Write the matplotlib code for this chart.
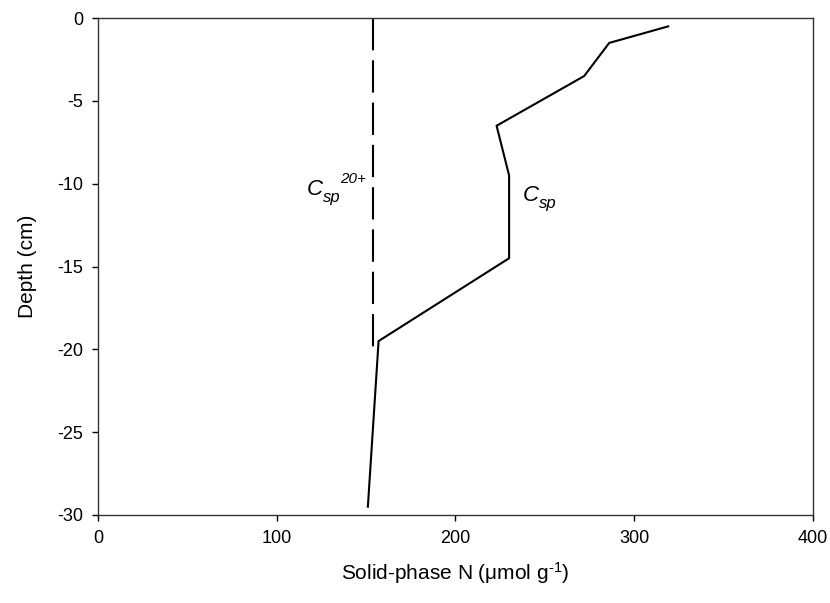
import matplotlib
matplotlib.use("Agg")
import matplotlib.pyplot as plt

plt.rcParams['font.family'] = ['Liberation Sans', 'DejaVu Sans']
plt.rcParams['mathtext.fontset'] = 'custom'
plt.rcParams['mathtext.rm'] = 'Liberation Sans'
plt.rcParams['mathtext.it'] = 'Liberation Sans:italic'
plt.rcParams['axes.unicode_minus'] = False

# Perfil de N en fase sólida frente a la profundidad
csp_n = [319, 286, 272, 223, 230, 230, 157, 151]
csp_depth = [-0.5, -1.5, -3.5, -6.5, -9.5, -14.5, -19.5, -29.5]

# Valor constante por encima de 20 cm
csp20_n = [154, 154]
csp20_depth = [0, -20]

x_ticks = [0, 100, 200, 300, 400]
y_ticks = [0, -5, -10, -15, -20, -25, -30]

fig = plt.figure(figsize=(8.30, 6.03), dpi=100)
ax = fig.add_axes([0.118, 0.146, 0.8615, 0.824])

ax.plot(csp_n, csp_depth, color="black", lw=1.5)
ax.plot(csp20_n, csp20_depth, color="black", lw=1.5, ls=(0, (15.5, 4.8)))


# Etiqueta con subíndice y superíndice, cada parte como texto aparte
def curve_label(x, y, sup=None):
    ax.text(x, y, "C", fontsize=16, style="italic", ha="left", va="baseline")
    ax.annotate("sp", xy=(x, y), xytext=(11.5, -5), textcoords="offset points",
                fontsize=12, style="italic", ha="left", va="baseline")
    if sup:
        ax.annotate(sup, xy=(x, y), xytext=(24, 9), textcoords="offset points",
                    fontsize=11, style="italic", ha="left", va="baseline")


curve_label(117.0, -10.7, "20+")
curve_label(237.6, -11.05)

ax.set_xlim(0, 400)
ax.set_ylim(-30, 0)
ax.set_xticks(x_ticks)
ax.set_yticks(y_ticks)
ax.tick_params(direction="out", length=4.5, width=1, labelsize=13, pad=6)

for s in ax.spines.values():
    s.set_color("#333333")
    s.set_linewidth(1)

ax.set_xlabel(r"Solid-phase N (μmol g$^{\text{-}1}$)", fontsize=15, labelpad=10)
ax.set_ylabel("Depth (cm)", fontsize=15, labelpad=15)

fig.savefig("out.png", dpi=100)
